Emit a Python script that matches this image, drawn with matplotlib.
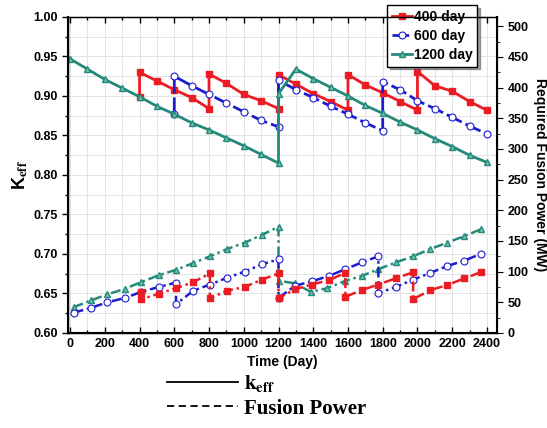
import numpy as np
import matplotlib.pyplot as plt
from matplotlib.lines import Line2D

plt.rcParams['font.family'] = ['Liberation Sans', 'DejaVu Sans']
plt.rcParams['font.weight'] = 'bold'
plt.rcParams['mathtext.fontset'] = 'stix'

# ---- k_eff (left axis) ----
teal_keff_t = [0, 100, 200, 300, 400, 500, 600, 700, 800, 900, 1000, 1100, 1200,
               1200, 1300, 1400, 1500, 1600, 1700, 1800, 1900, 2000, 2100, 2200, 2300, 2400]
teal_keff = [0.947, 0.934, 0.921, 0.910, 0.899, 0.887, 0.877, 0.866, 0.857, 0.847, 0.837, 0.826, 0.815,
             0.903, 0.934, 0.922, 0.911, 0.900, 0.888, 0.878, 0.867, 0.857, 0.846, 0.836, 0.825, 0.816]

red_keff_t = [400, 400, 500, 600, 700, 800, 800, 900, 1000, 1100, 1200,
              1200, 1300, 1400, 1500, 1600, 1600, 1700, 1800, 1900, 2000,
              2000, 2100, 2200, 2300, 2400]
red_keff = [0.899, 0.930, 0.919, 0.908, 0.898, 0.884, 0.928, 0.916, 0.902, 0.894, 0.884,
            0.927, 0.915, 0.903, 0.893, 0.882, 0.927, 0.914, 0.904, 0.893, 0.882,
            0.931, 0.913, 0.906, 0.893, 0.882]

blue_keff_t = [600, 600, 700, 800, 900, 1000, 1100, 1200,
               1200, 1300, 1400, 1500, 1600, 1700, 1800,
               1800, 1900, 2000, 2100, 2200, 2300, 2400]
blue_keff = [0.877, 0.925, 0.913, 0.902, 0.891, 0.880, 0.869, 0.861,
             0.920, 0.908, 0.898, 0.887, 0.877, 0.866, 0.856,
             0.918, 0.908, 0.894, 0.884, 0.873, 0.862, 0.852]

# ---- fusion power (right axis) ----
teal_pow_t = [20, 120, 215, 315, 410, 510, 610, 710, 805, 905, 1005, 1105, 1200,
              1200, 1295, 1385, 1480, 1585, 1680, 1775, 1875, 1975, 2075, 2170, 2270, 2365]
teal_pow = [42, 53, 63, 72, 83, 94, 103, 114, 125, 137, 147, 160, 173,
            85, 81, 67, 73, 85, 93, 104, 115, 125, 137, 147, 158, 169]

blue_pow_t = [20, 120, 215, 315, 410, 510, 610, 610, 710, 805, 905, 1005, 1105, 1200,
              1200, 1295, 1390, 1490, 1585, 1680, 1775, 1775, 1875, 1975, 2075, 2170, 2270, 2365]
blue_pow = [33, 41, 50, 57, 67, 75, 82, 47, 69, 79, 90, 100, 112, 120,
            57, 77, 84, 93, 104, 115, 125, 65, 75, 87, 98, 109, 118, 129]

red_pow_t = [410, 410, 510, 610, 710, 805, 805, 905, 1005, 1105, 1200,
             1200, 1295, 1390, 1490, 1585, 1585, 1680, 1775, 1875, 1975,
             1975, 2075, 2170, 2270, 2365]
red_pow = [67, 55, 64, 73, 83, 97, 57, 69, 75, 87, 97,
           57, 71, 79, 86, 98, 59, 70, 79, 89, 99,
           55, 70, 78, 89, 99]

red = '#ec1c24'
blue = '#1c1cd0'
teal = '#25897a'

fig = plt.figure(figsize=(5.47, 4.28), dpi=100)
ax = fig.add_axes([0.1243, 0.222, 0.7843, 0.7383])
ax2 = ax.twinx()

l_red, = ax.plot(red_keff_t, red_keff, '-', color=red, lw=2, marker='s', ms=4, label='400 day')
l_blue, = ax.plot(blue_keff_t, blue_keff, color=blue, lw=2, ls=(0, (6, 1.5)), marker='o', ms=5,
                  mfc='white', mec=blue, mew=0.8, label='600 day')
l_teal, = ax.plot(teal_keff_t, teal_keff, '-', color=teal, lw=2, marker='^', ms=4.5,
                  mfc='#6cc0ad', mec=teal, label='1200 day')

dd = (0, (4, 1.5, 1, 1.5))
ax2.plot(teal_pow_t, teal_pow, color=teal, lw=1.8, ls=dd, marker='^', ms=4.5, mfc='#6cc0ad', mec=teal)
ax2.plot(blue_pow_t, blue_pow, color=blue, lw=1.8, ls=dd, marker='o', ms=5, mfc='white', mec=blue, mew=0.8)
ax2.plot(red_pow_t, red_pow, color=red, lw=1.8, ls=dd, marker='s', ms=4)

ax.set_xlim(-12, 2458)
ax.set_ylim(0.60, 1.00)
ax2.set_ylim(0, 515)
ax.set_xticks(np.arange(0, 2401, 200))
ax.set_xticks(np.arange(0, 2401, 100), minor=True)
ax.set_yticks(np.arange(0.60, 1.001, 0.05))
ax.set_yticks(np.arange(0.60, 1.001, 0.025), minor=True)
ax.yaxis.set_major_formatter(plt.FormatStrFormatter('%.2f'))
ax2.set_yticks(np.arange(0, 501, 50))
ax2.set_yticks(np.arange(0, 501, 25), minor=True)

ax.grid(True, which='both', color='#e4e4e4', lw=0.7)
ax.set_axisbelow(True)

ax.tick_params(axis='both', which='both', labelsize=9, width=1)
ax.tick_params(axis='x', which='both', top=True, direction='in')
ax.tick_params(axis='x', which='major', length=4)
ax.tick_params(axis='x', which='minor', length=2)
ax.tick_params(axis='y', which='major', length=4, direction='out')
ax.tick_params(axis='y', which='minor', length=2, direction='out')
ax2.tick_params(axis='y', which='major', length=4, labelsize=9, direction='out')
ax2.tick_params(axis='y', which='minor', length=2, direction='out')
for s in ax2.spines.values():
    s.set_linewidth(1)
ax2.spines['right'].set_linewidth(1.5)
ax.spines['left'].set_linewidth(1.5)
ax.spines['bottom'].set_linewidth(1.5)

ax.set_xlabel('Time (Day)', fontsize=10, fontweight='bold', labelpad=4)
ax.set_ylabel(r'K$_{\mathbf{eff}}$', fontsize=13, fontweight='bold', labelpad=2)
ax2.set_ylabel('Required Fusion Power (MW)', fontsize=10, fontweight='bold', rotation=270, labelpad=13)

leg = ax.legend(handles=[l_red, l_blue, l_teal], loc='upper left', bbox_to_anchor=(0.707, 0.988),
                bbox_transform=fig.transFigure, fancybox=False, shadow=True, framealpha=1,
                edgecolor='black', prop={'weight': 'bold', 'size': 10},
                handlelength=1.5, handletextpad=0.1, borderpad=0.35, labelspacing=0.35, borderaxespad=0)
leg.get_frame().set_linewidth(1)
leg.set_zorder(10)

h1 = Line2D([], [], color='black', lw=1.3, ls='-')
h2 = Line2D([], [], color='black', lw=1.3, ls=(0, (4, 2.5)))
fig.legend(handles=[h1, h2], labels=[r'$\mathbf{k_{eff}}$', 'Fusion Power'],
           loc='upper left', bbox_to_anchor=(0.29, 0.147), frameon=False,
           prop={'family': 'Liberation Serif', 'weight': 'bold', 'size': 15},
           handlelength=3.4, handletextpad=0.3, labelspacing=0.2, borderaxespad=0)

fig.savefig('out.png', dpi=100)
